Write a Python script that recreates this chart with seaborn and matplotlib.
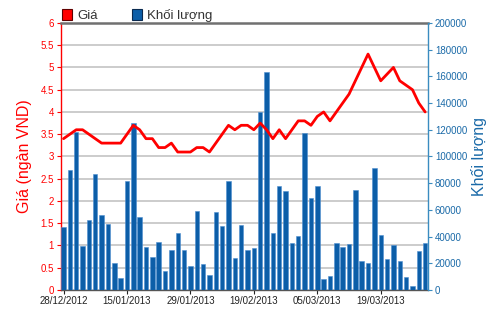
import numpy as np
import pandas as pd
import matplotlib
matplotlib.use("Agg")
import matplotlib.pyplot as plt
import seaborn as sns
from matplotlib.patches import Patch

# ---- data ----
price = [3.4, 3.5, 3.6, 3.6, 3.5, 3.4, 3.3, 3.3, 3.3, 3.3,
         3.5, 3.7, 3.6, 3.4, 3.4, 3.2, 3.2, 3.3, 3.1, 3.1,
         3.1, 3.2, 3.2, 3.1, 3.3, 3.5, 3.7, 3.6, 3.7, 3.7,
         3.6, 3.75, 3.6, 3.4, 3.6, 3.4, 3.6, 3.8, 3.8, 3.7,
         3.9, 4.0, 3.8, 4.0, 4.2, 4.4, 4.7, 5.0, 5.3, 5.0,
         4.7, 4.85, 5.0, 4.7, 4.6, 4.5, 4.2, 4.0]
volume = [47000, 90000, 118500, 33000, 52500, 86500, 56000, 49500, 20000, 9000,
          81500, 125300, 54500, 32000, 25000, 36000, 14500, 29700, 43000, 29700,
          17700, 59300, 19300, 11300, 58700, 48000, 81300, 24300, 49000, 29700,
          31300, 133000, 163000, 43000, 78000, 74500, 35500, 40500, 117300, 69200,
          78000, 8200, 10600, 35500, 32500, 34700, 75000, 21800, 20000, 91000,
          41200, 23500, 33800, 21800, 9700, 3100, 29300, 35500]
tick_labels = ["28/12/2012", "15/01/2013", "29/01/2013", "19/02/2013", "05/03/2013", "19/03/2013"]
tick_every = 10

df = pd.DataFrame({"idx": np.arange(len(price)), "price": price, "volume": volume})

RED = "#ff0000"
BLUE = "#0c5ea8"
BLUE_AX = "#3a8cc0"

sns.set_style("white")
plt.rcParams["font.family"] = ["Liberation Sans", "DejaVu Sans"]

fig = plt.figure(figsize=(5.0, 3.12), dpi=100)
ax = fig.add_axes([0.122, 0.0705, 0.734, 0.856])
ax2 = ax.twinx()
ax3 = ax.twinx()

# price axis (background: grid + left ticks)
ax.set_ylim(0, 6)
ax.set_yticks(np.arange(0, 6.01, 0.5))
ax.set_yticklabels([f"{v:g}" for v in np.arange(0, 6.01, 0.5)])
ax.grid(axis="y", color="#cccccc", linewidth=1.4)
ax.set_axisbelow(True)
ax.tick_params(axis="y", colors=RED, labelsize=7, length=3, width=0.8, pad=2)
ax.set_ylabel("Giá (ngàn VND)", color=RED, fontsize=11.5, labelpad=6)

# volume bars
sns.barplot(data=df, x="idx", y="volume", ax=ax2, color=BLUE, saturation=1,
            width=0.7, edgecolor="#4f8fd0", linewidth=0.4)
ax2.set_ylim(0, 200000)
ax2.set_yticks(np.arange(0, 200001, 20000))
ax2.tick_params(axis="y", colors=BLUE_AX, labelsize=7, length=3, width=0.8, pad=2)
for t in ax2.get_yticklabels():
    t.set_color("#1a6aa8")
ax2.set_ylabel("Khối lượng", color="#1a6aa8", fontsize=11.5, labelpad=3)
ax2.yaxis.set_label_position("right")
ax2.set_xlabel("")

# price line
sns.lineplot(data=df, x="idx", y="price", ax=ax3, color=RED, linewidth=2.0)
ax3.set_ylim(0, 6)
ax3.axis("off")

for a in (ax, ax2, ax3):
    a.set_xlim(-0.4, len(price) - 1 + 0.45)

ticks = list(range(0, len(price), tick_every))
ax.set_xticks(ticks)
ax.set_xticklabels(tick_labels[:len(ticks)])
ax.tick_params(axis="x", labelsize=7, length=3, width=0.8, colors="#222222", pad=1,
               bottom=True, labelbottom=True)
ax.set_xlabel("")
ax2.set_xlabel("")
ax3.set_xlabel("")

# spines
for a in (ax, ax2):
    for s in a.spines.values():
        s.set_visible(False)
ax.spines["left"].set_visible(True)
ax.spines["left"].set_color(RED)
ax.spines["left"].set_linewidth(1.0)
ax2.spines["right"].set_visible(True)
ax2.spines["right"].set_color(BLUE_AX)
ax2.spines["right"].set_linewidth(1.0)
ax.spines["top"].set_visible(True)
ax.spines["top"].set_color("#707070")
ax.spines["top"].set_linewidth(1.8)
ax.spines["bottom"].set_visible(True)
ax.spines["bottom"].set_color("#555555")
ax.spines["bottom"].set_linewidth(1.0)

# legend
handles = [Patch(facecolor=RED, edgecolor="#600000", linewidth=0.8, label="Giá"),
           Patch(facecolor=BLUE, edgecolor="#0a2a50", linewidth=0.8, label="Khối lượng")]
fig.legend(handles=handles, loc="lower left", bbox_to_anchor=(0.122, 0.925),
           ncol=2, frameon=False, fontsize=9.5, handlelength=0.75, handleheight=0.9,
           handletextpad=0.4, columnspacing=2.6, borderpad=0.1, borderaxespad=0,
           labelcolor="#333333")

fig.savefig("out.png", dpi=100)
